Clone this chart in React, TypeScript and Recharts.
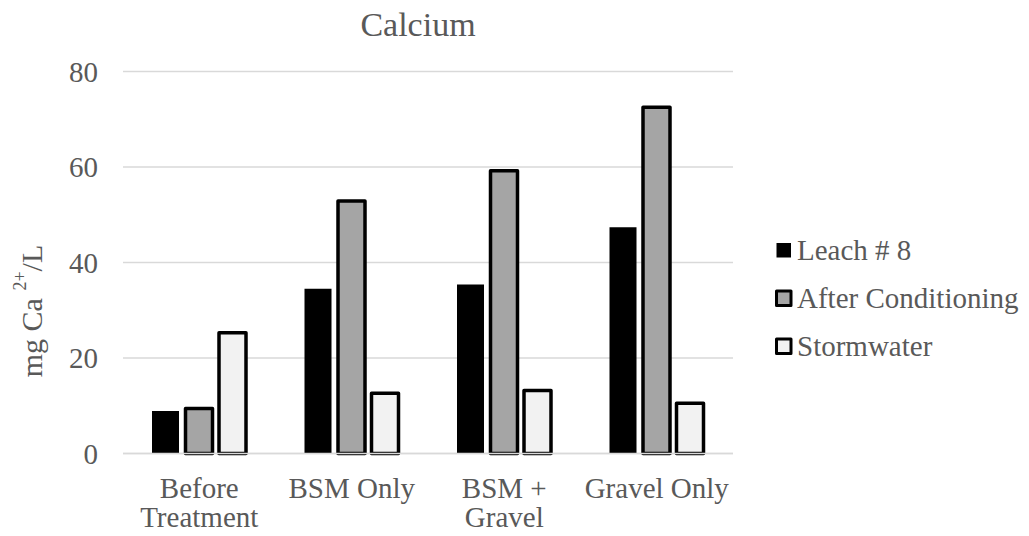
import React from "react";
import {
  BarChart,
  Bar,
  XAxis,
  YAxis,
  CartesianGrid,
  Customized,
} from "recharts";

const categories = ["Before\nTreatment", "BSM Only", "BSM +\nGravel", "Gravel Only"];
const leach8 = [8.9, 34.5, 35.4, 47.4];
const afterConditioning = [9.4, 52.9, 59.2, 72.5];
const stormwater = [25.3, 12.6, 13.2, 10.5];
const yTicks = [0, 20, 40, 60, 80];

const series = [
  { key: "leach", name: "Leach # 8", fill: "#000000", stroke: "none" },
  { key: "after", name: "After Conditioning", fill: "#a5a5a5", stroke: "#000000" },
  { key: "storm", name: "Stormwater", fill: "#f2f2f2", stroke: "#000000" },
];

const data = categories.map((name, i) => ({
  name,
  leach: leach8[i],
  after: afterConditioning[i],
  storm: stormwater[i],
}));

const FONT = "'Liberation Serif', 'Times New Roman', serif";
const TEXT = "#595959";

const CategoryTick = (props: any) => {
  const { x, y, payload } = props;
  const lines = String(payload.value).split("\n");
  return (
    <text x={x} y={y} textAnchor="middle" fill={TEXT} fontSize={29} fontFamily={FONT}>
      {lines.map((line, i) => (
        <tspan key={i} x={x} dy={i === 0 ? 36 : 29}>
          {line}
        </tspan>
      ))}
    </text>
  );
};

const Decorations = () => (
  <g fontFamily={FONT} fill={TEXT}>
    <text x={418} y={36} textAnchor="middle" fontSize={34}>
      Calcium
    </text>
    <text
      x={31}
      y={311}
      transform="rotate(-90 31 311)"
      textAnchor="middle"
      dominantBaseline="central"
      fontSize={30}
    >
      mg Ca <tspan fontSize={18} dy={-11}>2+</tspan>
      <tspan dy={11}>/L</tspan>
    </text>
    {series.map((s, i) => {
      const cy = 250 + i * 48;
      return (
        <g key={s.key}>
          <rect
            x={776.5}
            y={cy - 7}
            width={14.5}
            height={14.5}
            fill={s.fill}
            stroke={s.stroke}
            strokeWidth={3}
            strokeLinejoin="round"
          />
          <text x={797} y={cy + 10} fontSize={29}>
            {s.name}
          </text>
        </g>
      );
    })}
  </g>
);

export default function App() {
  return (
    <div style={{ position: "absolute", left: 0, top: 0, background: "#fff" }}>
      <BarChart
        width={1029}
        height={536}
        data={data}
        margin={{ top: 71.5, right: 296, bottom: 22.5, left: 0 }}
        barSize={27}
        barGap={6.5}
      >
        <CartesianGrid vertical={false} stroke="#d9d9d9" strokeWidth={1.5} />
        <XAxis
          dataKey="name"
          height={60}
          tick={<CategoryTick />}
          tickLine={false}
          axisLine={{ stroke: "#d9d9d9", strokeWidth: 1.5 }}
          interval={0}
        />
        <YAxis
          width={123}
          domain={[0, 80]}
          ticks={yTicks}
          tickLine={false}
          axisLine={false}
          tickSize={6}
          tickMargin={19}
          tick={{ fill: TEXT, fontSize: 29, fontFamily: FONT }}
        />
        {series.map((s) => (
          <Bar
            key={s.key}
            dataKey={s.key}
            name={s.name}
            fill={s.fill}
            stroke={s.stroke}
            strokeWidth={3.5}
            strokeLinejoin="round"
            isAnimationActive={false}
          />
        ))}
        <Customized component={Decorations} />
      </BarChart>
    </div>
  );
}
